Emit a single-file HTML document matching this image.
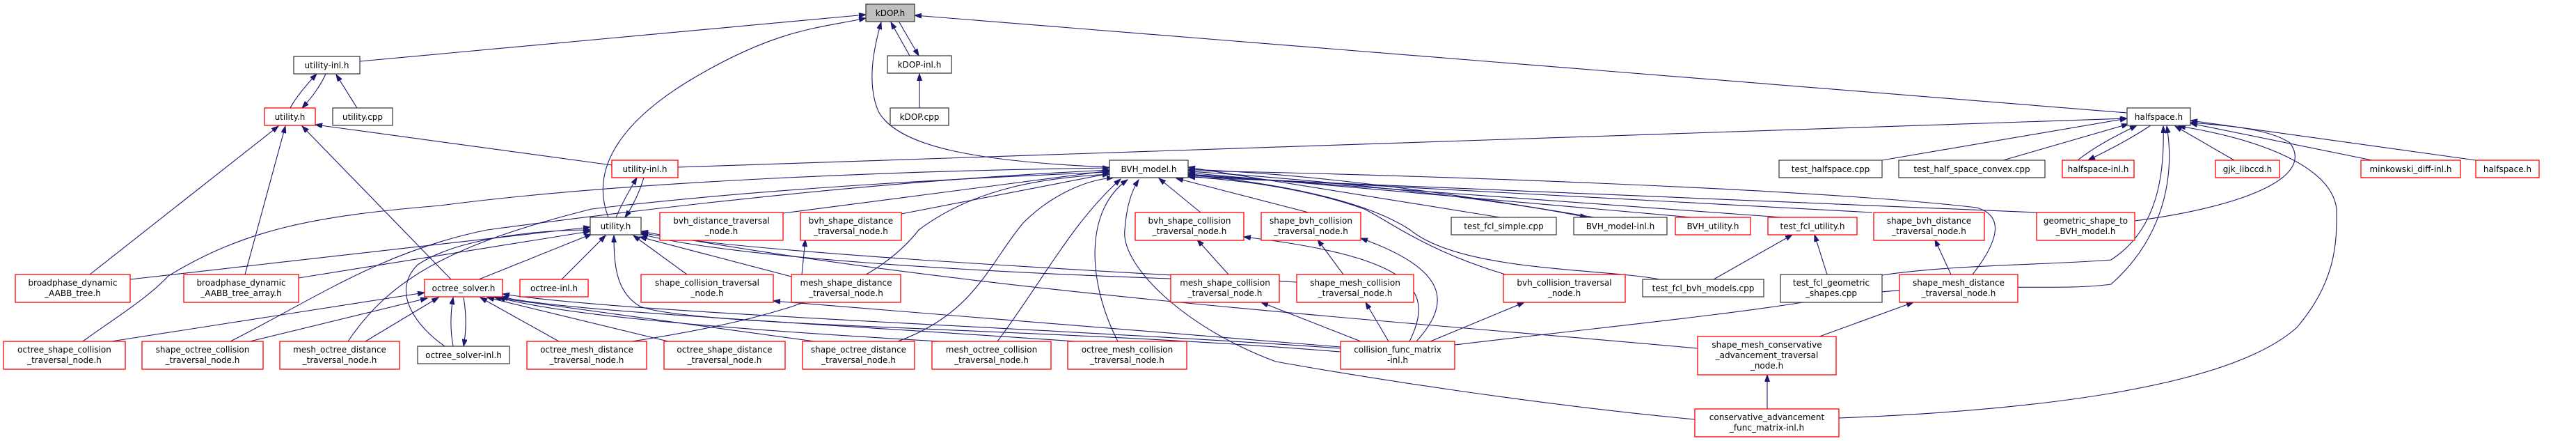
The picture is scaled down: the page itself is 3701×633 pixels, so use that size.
<!DOCTYPE html>
<html><head><meta charset="utf-8"><style>
html,body{margin:0;padding:0;background:#fff;}
svg{display:block;}
text{font-family:"DejaVu Sans","Liberation Sans",sans-serif;font-size:12px;fill:#000;text-anchor:middle;}
.n rect{fill:#fff;stroke-width:1.3;}
.b rect{stroke:#404040;}
.r rect{stroke:#ff0000;}
path.e{fill:none;stroke:#191970;stroke-width:1.1;}
</style></head><body>
<svg width="3701" height="633" viewBox="0 0 3701 633" xmlns="http://www.w3.org/2000/svg">
<defs><marker id="a" markerUnits="userSpaceOnUse" markerWidth="11" markerHeight="8" refX="10" refY="3.5" orient="auto"><path d="M0,0 L10,3.5 L0,7 z" fill="#191970" stroke="#191970"/></marker></defs>
<g marker-end="url(#a)">
<path class="e" d="M517,88 L1244,21"/>
<path class="e" d="M874,312 C850,250 880,180 1000,110 S1180,40 1244,26"/>
<path class="e" d="M1594,240 C1400,232 1290,210 1262,160 C1245,120 1255,70 1266,32"/>
<path class="e" d="M1307,80 L1280,32"/>
<path class="e" d="M1292,32 L1320,80"/>
<path class="e" d="M3056,162 L1314,22"/>
<path class="e" d="M1321,155 L1321,106"/>
<path class="e" d="M417,155 C425,140 440,122 455,106"/>
<path class="e" d="M468,106 C462,120 450,138 434,155"/>
<path class="e" d="M513,155 L483,107"/>
<path class="e" d="M129,394 L400,181"/>
<path class="e" d="M352,394 L410,181"/>
<path class="e" d="M648,401 L434,181"/>
<path class="e" d="M879,237 L453,179"/>
<path class="e" d="M885,312 C892,295 905,272 915,255"/>
<path class="e" d="M925,255 C920,272 910,295 898,312"/>
<path class="e" d="M974,240 L3056,170"/>
<path class="e" d="M187,401 L848,326"/>
<path class="e" d="M429,399 L848,332"/>
<path class="e" d="M688,401 L850,336"/>
<path class="e" d="M807,401 L870,338"/>
<path class="e" d="M987,394 L910,338"/>
<path class="e" d="M1137,397 L919,340"/>
<path class="e" d="M1926,505 C1500,470 1000,470 920,440 C885,420 882,380 882,338"/>
<path class="e" d="M1682,400 C1400,390 1050,370 921,336"/>
<path class="e" d="M1863,405 C1500,385 1050,360 921,334"/>
<path class="e" d="M2439,500 C2000,460 1400,420 921,332"/>
<path class="e" d="M639,497 C600,470 560,420 600,380 C660,340 780,330 848,330"/>
<path class="e" d="M160,490 L610,420"/>
<path class="e" d="M359,490 L614,428"/>
<path class="e" d="M525,490 L630,427"/>
<path class="e" d="M651,497 C647,475 647,450 651,427"/>
<path class="e" d="M666,427 C670,450 670,475 666,497"/>
<path class="e" d="M803,490 L690,427"/>
<path class="e" d="M960,490 L700,427"/>
<path class="e" d="M1170,490 L710,427"/>
<path class="e" d="M1350,490 C1000,470 800,450 716,427"/>
<path class="e" d="M1545,490 C1100,460 800,445 720,426"/>
<path class="e" d="M1926,500 C1500,470 900,450 722,422"/>
<path class="e" d="M119,490 C160,460 210,430 242,396 C350,330 450,310 633,295 C900,260 1300,245 1594,241"/>
<path class="e" d="M331,490 C450,430 550,360 700,330 C1000,290 1300,258 1594,244"/>
<path class="e" d="M500,490 C560,400 650,350 850,300 C1100,270 1400,255 1594,247"/>
<path class="e" d="M908,490 C1100,460 1250,420 1320,330 C1400,270 1500,255 1594,250"/>
<path class="e" d="M1290,490 C1400,450 1420,380 1470,320 C1510,280 1560,258 1600,255"/>
<path class="e" d="M1433,490 C1500,400 1540,320 1610,257"/>
<path class="e" d="M1606,490 C1560,400 1560,300 1620,258"/>
<path class="e" d="M1125,306 L1594,245"/>
<path class="e" d="M1295,307 L1594,249"/>
<path class="e" d="M1725,305 L1665,256"/>
<path class="e" d="M1880,305 L1690,256"/>
<path class="e" d="M2155,312 L1707,240"/>
<path class="e" d="M2290,312 C2100,280 1900,250 1707,243"/>
<path class="e" d="M1707,246 C1900,258 2150,285 2280,312"/>
<path class="e" d="M2430,312 L1707,248"/>
<path class="e" d="M2560,312 L1707,250"/>
<path class="e" d="M2690,305 L1707,252"/>
<path class="e" d="M2926,305 L1707,254"/>
<path class="e" d="M2834,394 C2872,345 2880,310 2840,298 C2600,270 2000,250 1707,245"/>
<path class="e" d="M2385,401 C2300,385 2100,390 2026,330 C1950,280 1800,260 1707,250"/>
<path class="e" d="M2163,394 C2050,360 2000,320 1960,300 C1860,265 1760,258 1707,253"/>
<path class="e" d="M2435,602 C2200,580 1950,540 1833,519 C1700,470 1610,380 1616,330 C1618,300 1625,275 1636,258"/>
<path class="e" d="M2055,490 L2190,434"/>
<path class="e" d="M1995,490 L1962,434"/>
<path class="e" d="M1955,490 L1812,434"/>
<path class="e" d="M2035,490 C2080,440 2090,390 1955,342"/>
<path class="e" d="M2025,490 C2060,420 2040,370 1787,340"/>
<path class="e" d="M1930,394 L1893,344"/>
<path class="e" d="M1765,394 L1720,344"/>
<path class="e" d="M1926,498 L1111,432"/>
<path class="e" d="M1152,394 L1157,344"/>
<path class="e" d="M2704,230 L3056,170"/>
<path class="e" d="M2878,230 L3058,178"/>
<path class="e" d="M2985,230 C3010,210 3040,195 3070,180"/>
<path class="e" d="M3090,180 C3060,200 3030,215 3000,230"/>
<path class="e" d="M3210,230 L3125,181"/>
<path class="e" d="M3408,230 L3147,177"/>
<path class="e" d="M3557,230 L3147,173"/>
<path class="e" d="M3067,317 C3200,300 3330,260 3290,205 C3260,185 3200,180 3147,176"/>
<path class="e" d="M2704,395 C2800,380 2950,380 3033,373 C3100,330 3110,250 3108,181"/>
<path class="e" d="M2090,495 C2300,470 2500,450 2614,430 C2800,400 2950,420 3033,408 C3110,340 3125,250 3113,181"/>
<path class="e" d="M2642,600 C2900,590 3200,560 3300,470 C3360,400 3357,340 3357,300 C3350,240 3250,200 3130,181"/>
<path class="e" d="M2614,483 L2749,434"/>
<path class="e" d="M2539,587 L2539,538"/>
<path class="e" d="M2803,394 L2780,344"/>
<path class="e" d="M2462,401 L2575,337"/>
<path class="e" d="M2625,394 L2607,337"/>
</g>

<g class="n">
<rect x="1244" y="6" width="70" height="25" style="fill:#bfbfbf;stroke:#404040;stroke-width:1.3"/><text x="1279" y="23">kDOP.h</text>
</g>
<g class="n b">
<rect x="422" y="81" width="95" height="25"/><text x="469.5" y="98">utility-inl.h</text>
<rect x="478" y="155" width="86" height="25"/><text x="521" y="172">utility.cpp</text>
<rect x="600" y="497" width="132" height="25"/><text x="666" y="514">octree_solver-inl.h</text>
<rect x="848" y="312" width="73" height="25"/><text x="884.5" y="329">utility.h</text>
<rect x="1275" y="80" width="92" height="25"/><text x="1321" y="97">kDOP-inl.h</text>
<rect x="1279" y="155" width="84" height="25"/><text x="1321" y="172">kDOP.cpp</text>
<rect x="1594" y="230" width="113" height="25"/><text x="1650.5" y="247">BVH_model.h</text>
<rect x="2085" y="312" width="151" height="25"/><text x="2160.5" y="329">test_fcl_simple.cpp</text>
<rect x="2261" y="312" width="134" height="25"/><text x="2328" y="329">BVH_model-inl.h</text>
<rect x="2360" y="401" width="174" height="25"/><text x="2447" y="418">test_fcl_bvh_models.cpp</text>
<rect x="2556" y="230" width="148" height="25"/><text x="2630" y="247">test_halfspace.cpp</text>
<rect x="2728" y="230" width="210" height="25"/><text x="2833" y="247">test_half_space_convex.cpp</text>
<rect x="2558" y="394" width="146" height="40"/><text x="2631" y="410">test_fcl_geometric</text><text x="2631" y="425">_shapes.cpp</text>
<rect x="3056" y="155" width="91" height="25"/><text x="3101.5" y="172">halfspace.h</text>
</g>
<g class="n r">
<rect x="380" y="155" width="73" height="25"/><text x="416.5" y="172">utility.h</text>
<rect x="22" y="394" width="165" height="40"/><text x="104.5" y="410">broadphase_dynamic</text><text x="104.5" y="425">_AABB_tree.h</text>
<rect x="264" y="394" width="165" height="40"/><text x="346.5" y="410">broadphase_dynamic</text><text x="346.5" y="425">_AABB_tree_array.h</text>
<rect x="5" y="490" width="175" height="40"/><text x="92.5" y="506">octree_shape_collision</text><text x="92.5" y="521">_traversal_node.h</text>
<rect x="204" y="490" width="174" height="40"/><text x="291" y="506">shape_octree_collision</text><text x="291" y="521">_traversal_node.h</text>
<rect x="402" y="490" width="172" height="40"/><text x="488" y="506">mesh_octree_distance</text><text x="488" y="521">_traversal_node.h</text>
<rect x="610" y="401" width="112" height="25"/><text x="666" y="418">octree_solver.h</text>
<rect x="747" y="401" width="98" height="25"/><text x="796" y="418">octree-inl.h</text>
<rect x="879" y="230" width="95" height="25"/><text x="926.5" y="247">utility-inl.h</text>
<rect x="948" y="305" width="177" height="40"/><text x="1036.5" y="321">bvh_distance_traversal</text><text x="1036.5" y="336">_node.h</text>
<rect x="1150" y="305" width="145" height="40"/><text x="1222.5" y="321">bvh_shape_distance</text><text x="1222.5" y="336">_traversal_node.h</text>
<rect x="921" y="394" width="190" height="40"/><text x="1016" y="410">shape_collision_traversal</text><text x="1016" y="425">_node.h</text>
<rect x="1137" y="394" width="157" height="40"/><text x="1215.5" y="410">mesh_shape_distance</text><text x="1215.5" y="425">_traversal_node.h</text>
<rect x="757" y="490" width="172" height="40"/><text x="843" y="506">octree_mesh_distance</text><text x="843" y="521">_traversal_node.h</text>
<rect x="954" y="490" width="174" height="40"/><text x="1041" y="506">octree_shape_distance</text><text x="1041" y="521">_traversal_node.h</text>
<rect x="1153" y="490" width="161" height="40"/><text x="1233.5" y="506">shape_octree_distance</text><text x="1233.5" y="521">_traversal_node.h</text>
<rect x="1339" y="490" width="171" height="40"/><text x="1424.5" y="506">mesh_octree_collision</text><text x="1424.5" y="521">_traversal_node.h</text>
<rect x="1534" y="490" width="171" height="40"/><text x="1619.5" y="506">octree_mesh_collision</text><text x="1619.5" y="521">_traversal_node.h</text>
<rect x="1631" y="305" width="156" height="40"/><text x="1709" y="321">bvh_shape_collision</text><text x="1709" y="336">_traversal_node.h</text>
<rect x="1812" y="305" width="143" height="40"/><text x="1883.5" y="321">shape_bvh_collision</text><text x="1883.5" y="336">_traversal_node.h</text>
<rect x="1682" y="394" width="156" height="40"/><text x="1760" y="410">mesh_shape_collision</text><text x="1760" y="425">_traversal_node.h</text>
<rect x="1863" y="394" width="168" height="40"/><text x="1947" y="410">shape_mesh_collision</text><text x="1947" y="425">_traversal_node.h</text>
<rect x="1926" y="490" width="164" height="40"/><text x="2008" y="506">collision_func_matrix</text><text x="2008" y="521">-inl.h</text>
<rect x="2160" y="394" width="175" height="40"/><text x="2247.5" y="410">bvh_collision_traversal</text><text x="2247.5" y="425">_node.h</text>
<rect x="2407" y="312" width="108" height="25"/><text x="2461" y="329">BVH_utility.h</text>
<rect x="2540" y="312" width="128" height="25"/><text x="2604" y="329">test_fcl_utility.h</text>
<rect x="2692" y="305" width="159" height="40"/><text x="2771.5" y="321">shape_bvh_distance</text><text x="2771.5" y="336">_traversal_node.h</text>
<rect x="2926" y="305" width="141" height="40"/><text x="2996.5" y="321">geometric_shape_to</text><text x="2996.5" y="336">_BVH_model.h</text>
<rect x="2963" y="230" width="103" height="25"/><text x="3014.5" y="247">halfspace-inl.h</text>
<rect x="2729" y="394" width="170" height="40"/><text x="2814" y="410">shape_mesh_distance</text><text x="2814" y="425">_traversal_node.h</text>
<rect x="2439" y="483" width="199" height="55"/><text x="2538.5" y="499">shape_mesh_conservative</text><text x="2538.5" y="514">_advancement_traversal</text><text x="2538.5" y="529">_node.h</text>
<rect x="2435" y="587" width="207" height="40"/><text x="2538.5" y="603">conservative_advancement</text><text x="2538.5" y="618">_func_matrix-inl.h</text>
<rect x="3183" y="230" width="92" height="25"/><text x="3229" y="247">gjk_libccd.h</text>
<rect x="3392" y="230" width="143" height="25"/><text x="3463.5" y="247">minkowski_diff-inl.h</text>
<rect x="3557" y="230" width="91" height="25"/><text x="3602.5" y="247">halfspace.h</text>
</g>
</svg>
</body></html>
